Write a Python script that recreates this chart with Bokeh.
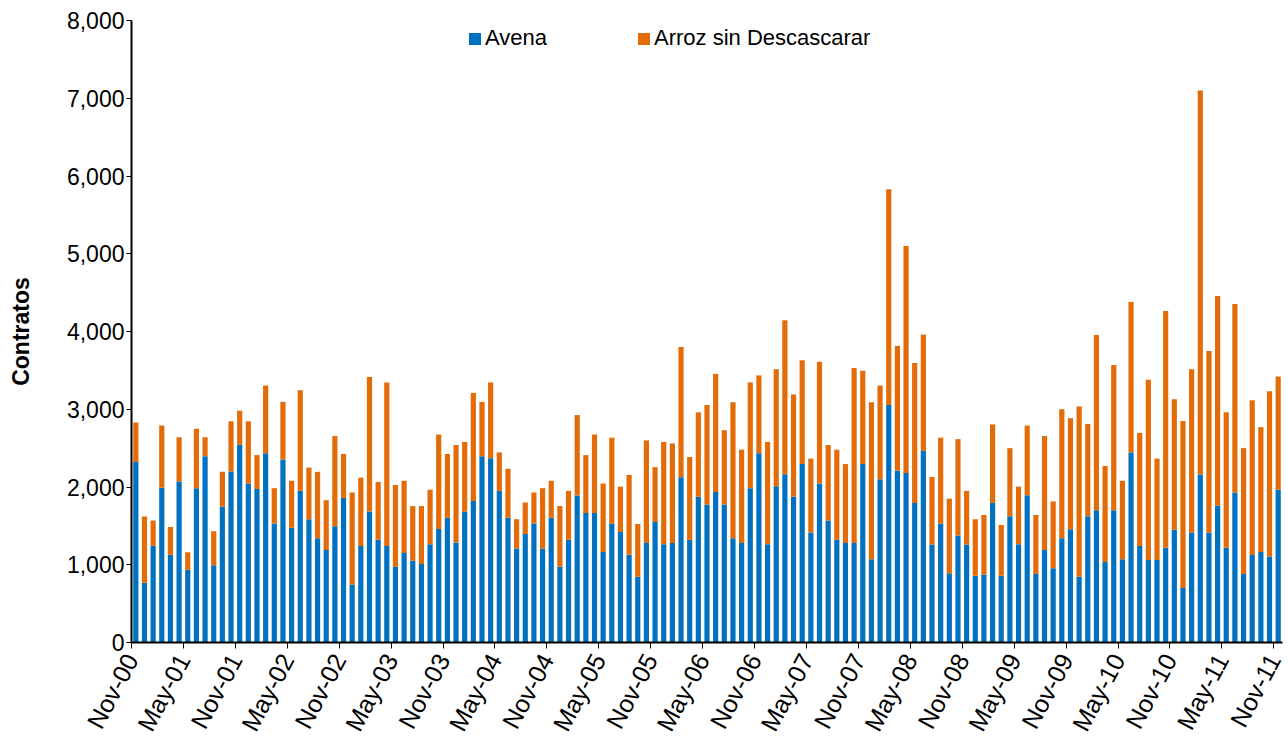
import math
from bokeh.plotting import figure
from bokeh.models import (ColumnDataSource, Range1d, FixedTicker, NumeralTickFormatter,
                          Legend, LegendItem)
from bokeh.embed import file_html
from bokeh.resources import INLINE

# Monthly categories, Nov-00 .. Nov-11 (133 months)
mes_nombres = ["Ene", "Feb", "Mar", "Abr", "May", "Jun",
               "Jul", "Ago", "Sep", "Oct", "Nov", "Dic"]
meses = [f"{mes_nombres[(10 + i) % 12]}-{(2000 + (10 + i) // 12) % 100:02d}" for i in range(133)]

# Avena (bottom, blue) - contracts per month
avena = [
    2320, 770, 1245, 1990, 1130, 2070, 935, 1985, 2395, 995, 1745, 2200,
    2545, 2045, 1975, 2435, 1530, 2355, 1475, 1950, 1585, 1340, 1190, 1495,
    1860, 745, 1240, 1685, 1320, 1240, 975, 1150, 1050, 1010, 1265, 1460,
    1605, 1285, 1685, 1820, 2395, 2370, 1950, 1605, 1210, 1395, 1530, 1210,
    1605, 975, 1320, 1890, 1665, 1665, 1165, 1530, 1420, 1130, 845, 1280,
    1550, 1265, 1280, 2125, 1320, 1875, 1775, 1935, 1775, 1340, 1280, 1985,
    2435, 1265, 2010, 2165, 1875, 2295, 1415, 2045, 1570, 1320, 1280, 1280,
    2295, 1070, 2100, 3055, 2210, 2180, 1795, 2465, 1260, 1530, 890, 1375,
    1260, 860, 875, 1795, 860, 1625, 1265, 1895, 880, 1190, 955, 1340,
    1455, 845, 1625, 1700, 1035, 1700, 1070, 2445, 1240, 1060, 1060, 1220,
    1450, 700, 1415, 2160, 1415, 1760, 1220, 1930, 880, 1125, 1165, 1105,
    1965,
]

# Arroz sin Descascarar (top, orange) - contracts per month
arroz = [
    510, 850, 325, 800, 355, 570, 225, 765, 245, 435, 450, 645,
    435, 800, 435, 870, 455, 740, 605, 1295, 665, 855, 640, 1160,
    565, 1185, 880, 1730, 745, 2105, 1050, 930, 705, 745, 700, 1215,
    820, 1255, 895, 1390, 700, 975, 495, 630, 375, 405, 400, 775,
    475, 780, 630, 1035, 745, 1010, 880, 1105, 585, 1025, 680, 1320,
    705, 1315, 1280, 1675, 1065, 1085, 1280, 1520, 955, 1750, 1200, 1360,
    1000, 1315, 1505, 1980, 1315, 1335, 950, 1565, 970, 1160, 1015, 2250,
    1200, 2020, 1205, 2775, 1605, 2920, 1800, 1495, 870, 1105, 960, 1240,
    690, 725, 765, 1010, 650, 875, 740, 895, 760, 1465, 860, 1660,
    1430, 2190, 1185, 2255, 1235, 1870, 1010, 1935, 1455, 2320, 1305, 3045,
    1680, 2150, 2100, 4940, 2335, 2695, 1740, 2425, 1620, 1990, 1605, 2125,
    1455,
]

y_ticks = [0, 1000, 2000, 3000, 4000, 5000, 6000, 7000, 8000]

AZUL = "#0070C0"
NARANJA = "#E36C09"
FONT = "Liberation Sans"

n = len(meses)
source = ColumnDataSource(dict(
    x=[i + 0.5 for i in range(n)],
    mes=meses,
    avena=avena,
    arroz=arroz,
))

p = figure(width=1288, height=745,
           x_range=Range1d(0, n), y_range=Range1d(0, 8000),
           output_backend="svg", toolbar_location=None,
           min_border_left=131, min_border_right=6,
           min_border_top=20, min_border_bottom=102)

rs = p.vbar_stack(["avena", "arroz"], x="x", width=0.6,
                  color=[AZUL, NARANJA], line_color=None, source=source)

p.xgrid.visible = False
p.ygrid.visible = False
p.outline_line_color = None

# Y axis
p.yaxis.ticker = FixedTicker(ticks=y_ticks)
p.yaxis.formatter = NumeralTickFormatter(format="0,0")
p.yaxis.axis_label = "Contratos"
p.yaxis.axis_label_text_font = FONT
p.yaxis.axis_label_text_font_style = "bold"
p.yaxis.axis_label_text_font_size = "23px"
p.yaxis.axis_label_text_color = "black"
p.yaxis.axis_label_standoff = 30
p.yaxis.major_label_text_font = FONT
p.yaxis.major_label_text_font_size = "23px"
p.yaxis.major_label_text_color = "black"
p.yaxis.major_label_standoff = 2
p.yaxis.major_tick_out = 5
p.yaxis.major_tick_in = 0
p.yaxis.minor_tick_line_color = None
p.yaxis.axis_line_width = 2
p.yaxis.axis_line_color = "black"
p.yaxis.major_tick_line_color = "black"

# X axis: ticks at category boundaries every 6 months
tick_pos = list(range(0, n, 6))
p.xaxis.ticker = FixedTicker(ticks=tick_pos)
p.xaxis.major_label_overrides = {t: meses[t] for t in tick_pos}
p.xaxis.major_label_orientation = 1.08
p.xaxis.major_label_text_font = FONT
p.xaxis.major_label_text_font_size = "25px"
p.xaxis.major_label_text_color = "black"
p.xaxis.major_label_standoff = 7
p.xaxis.major_tick_out = 6
p.xaxis.major_tick_in = 0
p.xaxis.minor_tick_line_color = None
p.xaxis.axis_line_width = 2
p.xaxis.axis_line_color = "black"
p.xaxis.major_tick_line_color = "black"

legend = Legend(items=[LegendItem(label="Avena", renderers=[rs[0]]),
                       LegendItem(label="Arroz sin Descascarar", renderers=[rs[1]])],
                orientation="horizontal", location=(336, 591),
                spacing=89, glyph_width=15, glyph_height=15, label_standoff=3,
                padding=0, margin=0, border_line_color=None,
                background_fill_alpha=0,
                label_text_font=FONT, label_text_font_size="22px",
                label_text_color="black")
p.add_layout(legend)

open("out.html", "w").write(file_html(p, INLINE))
